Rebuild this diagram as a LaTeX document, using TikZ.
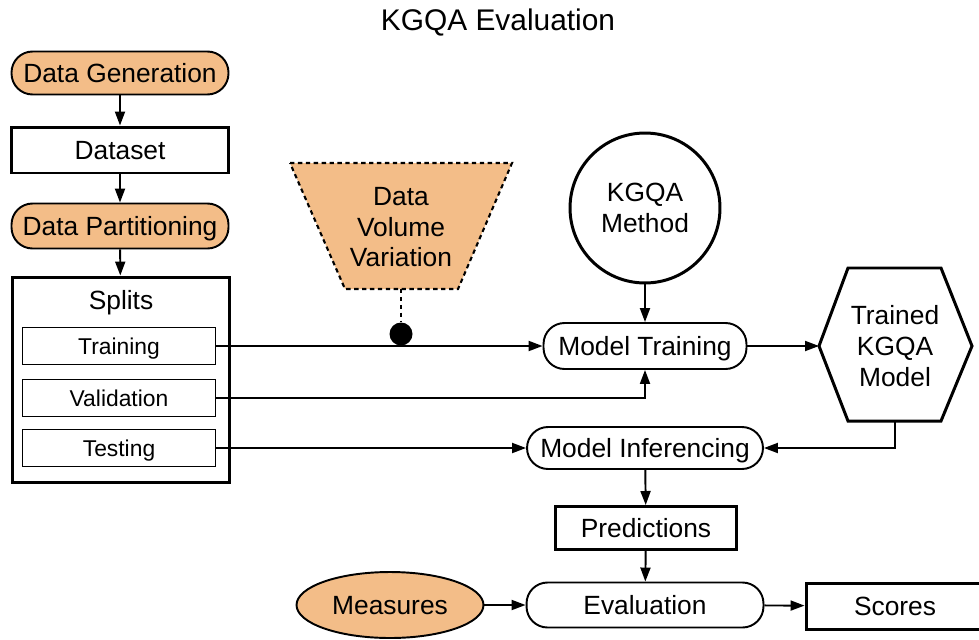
\documentclass[tikz,border=0pt]{standalone}
\usepackage{fontspec}
\setmainfont{Liberation Sans}
\usetikzlibrary{arrows.meta, positioning, shapes.geometric}

\definecolor{sandfill}{HTML}{F3BD88}

\begin{document}
\begin{tikzpicture}[
    x=0.02cm, y=-0.02cm,
    >={Triangle[length=2.8mm, width=2mm]},
    every node/.style={font=\fontsize{15}{17.5}\selectfont, align=center, inner sep=0pt, text depth=0pt},
    thinbox/.style={draw, line width=1.1pt, minimum width=3.86cm, minimum height=0.74cm,
                    font=\fontsize{13}{15}\selectfont},
    thickbox/.style={draw, line width=1.7pt},
    roundbox/.style={draw, line width=1.1pt, rounded corners=0.42cm},
    every edge/.style = {draw, ->, line width=1.1pt}
]
\useasboundingbox (0,0) rectangle (979,639);

\node[font=\fontsize{17}{20}\selectfont] (title) at (498,20) {KGQA Evaluation};

% Left column
\node[roundbox, fill=sandfill, minimum width=4.34cm, minimum height=0.86cm] (datagen) at (120,73) {Data Generation};
\node[thickbox, minimum width=4.34cm, minimum height=0.92cm] (dataset) at (120,150) {Dataset};
\node[roundbox, fill=sandfill, minimum width=4.34cm, minimum height=0.9cm] (datapart) at (120,226) {Data Partitioning};

\node[thickbox, minimum width=4.36cm, minimum height=4.12cm,
      label={[anchor=center, yshift=-0.48cm]north:Splits}] (splits) at (121,380) {};
\node[thinbox] (train) at (119,346) {Training};
\node[thinbox] (valid) at (119,398) {Validation};
\node[thinbox] (test)  at (119,448) {Testing};

% Data volume variation
\draw[fill=sandfill, line width=1.2pt, dash pattern=on 2.5pt off 2pt]
    (290,163) -- (512,163) -- (458,289) -- (345,289) -- cycle;
\node (volume) at (401,227) {Data\\Volume\\Variation};
\coordinate (volS) at (401,289);

% Method and models
\node[draw, circle, line width=1.7pt, minimum size=3cm] (method) at (645,208) {KGQA\\Method};
\node[roundbox, minimum width=4.06cm, minimum height=0.92cm] (mtrain) at (645,346) {Model Training};

\draw[line width=1.7pt] (848,268) -- (941,268) -- (972,346) -- (941,421) -- (848,421) -- (819,346) -- cycle;
\node (trained) at (895,346) {Trained\\KGQA\\Model};
\coordinate (hexW) at (819,346);
\coordinate (hexS) at (895,421);

\node[roundbox, minimum width=4.72cm, minimum height=0.84cm] (minfer) at (645,448) {Model Inferencing};
\node[thickbox, minimum width=3.62cm, minimum height=0.86cm] (pred) at (646,528) {Predictions};

% Evaluation row
\node[draw, ellipse, fill=sandfill, line width=1.1pt, minimum width=3.74cm, minimum height=1.32cm] (measures) at (390,605) {Measures};
\node[roundbox, minimum width=4.74cm, minimum height=0.9cm] (eval) at (645,605) {Evaluation};
\node[thickbox, minimum width=4.2cm, minimum height=0.92cm,
      label={[anchor=center, xshift=-0.32cm]center:Scores}] (scores) at (911,606) {};

\draw (datagen) edge (dataset)
      (dataset) edge (datapart)
      (datapart) edge (splits)
      (train) edge (mtrain)
      (method) edge (mtrain)
      (mtrain) edge (hexW)
      (test) edge (minfer)
      (minfer) edge (pred)
      (pred) edge (eval)
      (measures) edge (eval)
      (eval) edge (scores);

\draw[->, line width=1.1pt] (valid.east) -| (mtrain.south);
\draw[->, line width=1.1pt] (hexS) |- (minfer.east);

% Volume marker on the training line
\node[circle, fill, minimum size=0.46cm] (dot) at (401,334) {};
\draw[line width=1.2pt, dash pattern=on 2.5pt off 2pt] (volS) -- (dot);

\end{tikzpicture}
\end{document}
